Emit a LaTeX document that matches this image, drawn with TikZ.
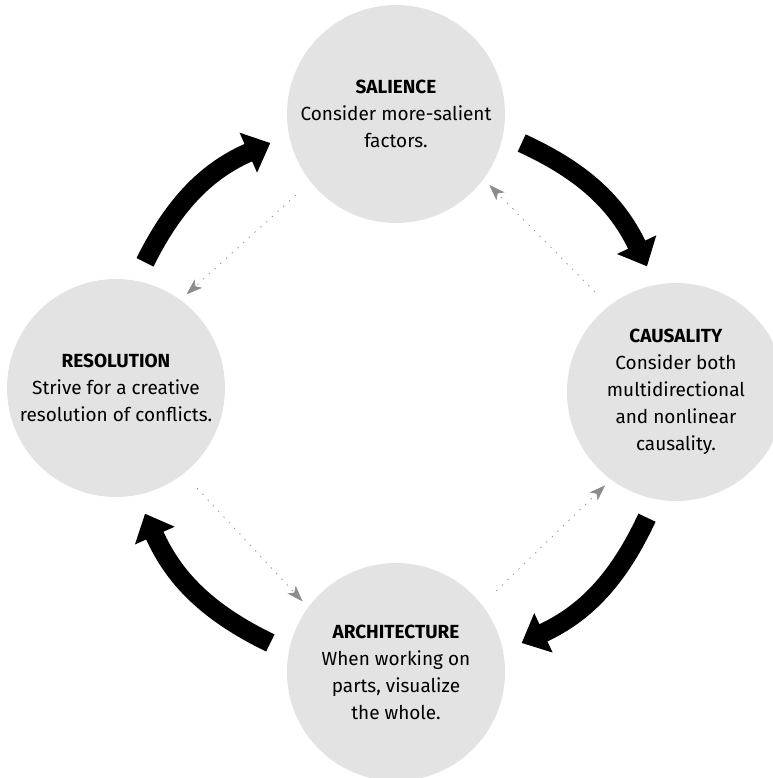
\documentclass[tikz,border=0pt]{standalone}
\usepackage{fontspec}
\setmainfont{Fira Sans}
\usetikzlibrary{arrows.meta}
\tikzset{
  cycle-stage/.style={circle, fill=black!11, minimum size=5.45cm, inner sep=0pt, outer sep=0.5cm,
    align=center, font=\fontsize{13.5pt}{19.2pt}\selectfont},
  cycle-arrow/.style={line width=0.475cm, -{Triangle[width=1.05cm, length=0.6cm]}, bend left=20},
  back-link/.style={black!45, line width=0.5pt, dash pattern=on 1pt off 4.5pt,
    -{Stealth[length=0.4cm, width=0.28cm, inset=0.1cm]}, shorten >=-0.3cm}
}

\begin{document}
\begin{tikzpicture}
  \useasboundingbox (0,0) rectangle (19.3,-19.45);

  % The four stages
  \node[cycle-stage] (sal) at (9.9,-2.85)
    {\textbf{SALIENCE}\\Consider more-salient\\factors.};
  \node[cycle-stage] (cau) at (16.9,-9.8)
    {\textbf{CAUSALITY}\\Consider both\\multidirectional\\and nonlinear\\causality.};
  \node[cycle-stage] (arc) at (9.9,-16.8)
    {\textbf{ARCHITECTURE}\\When working on\\parts, visualize\\the whole.};
  \node[cycle-stage] (res) at (2.9,-9.7)
    {\textbf{RESOLUTION}\\Strive for a creative\\resolution of conflicts.};

  % Main cycle (clockwise)
  \foreach \from/\fa/\to/\ta in {res/77/sal/193, sal/-13/cau/103, cau/-103/arc/13, arc/167/res/-77}
    \draw[cycle-arrow] (\from.\fa) to (\to.\ta);

  % Feedback links (counter-clockwise)
  \foreach \from/\fa/\to/\ta in {sal/219/res/52, cau/129/sal/-38, arc/39/cau/-128, res/-51/arc/142}
    \draw[back-link] (\from.\fa) -- (\to.\ta);
\end{tikzpicture}
\end{document}
